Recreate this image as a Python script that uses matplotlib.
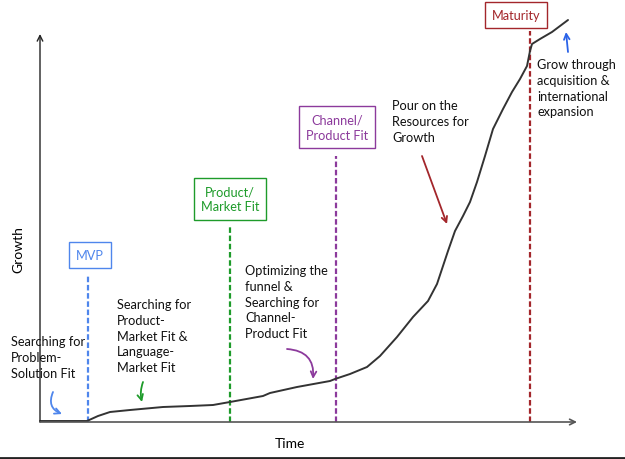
import matplotlib.pyplot as plt

plt.rcParams['font.family'] = ['Lato', 'DejaVu Sans']

# growth curve (time, growth)
time = [0, 47, 58, 70, 90, 123, 150, 173, 190, 223, 230, 257, 290, 295, 310, 327,
        340, 357, 373, 388, 397, 403, 408, 415, 423, 430, 437, 445, 453, 463, 472,
        480, 487, 490, 492, 500, 512, 520, 528]
growth = [1, 1, 6, 10, 12, 15, 16, 17, 20, 26, 29, 35, 41, 43, 48, 55,
          66, 85, 105, 121, 138, 156, 171, 191, 206, 220, 240, 266, 293, 313, 330,
          343, 356, 371, 378, 383, 390, 396, 402]

# milestones
milestones = ["MVP", "Product/\nMarket Fit", "Channel/\nProduct Fit", "Maturity"]
milestone_t = [48, 190, 296, 490]
milestone_top = [148, 197, 266, 391]
milestone_box = [(50, 167), (190, 223), (297, 295), (476, 407)]
milestone_colors = ["#4f86ec", "#1e9b2a", "#8c3a9c", "#a3262b"]

# phase notes
notes = ["Searching for\nProblem-\nSolution Fit",
         "Searching for\nProduct-\nMarket Fit &\nLanguage-\nMarket Fit",
         "Optimizing the\nfunnel &\nSearching for\nChannel-\nProduct Fit",
         "Pour on the\nResources for\nGrowth",
         "Grow through\nacquisition &\ninternational\nexpansion"]
note_pos = [(-29, 87), (77, 124), (205, 158), (352, 323), (497, 364)]
arrow_from = [(13, 30), (103, 40), (247, 73), (382, 266), (528, 370)]
arrow_to = [(22, 8), (102, 20), (273, 43), (407, 198), (526, 390)]
arrow_rad = [0.5, 0.15, -0.5, 0.0, 0.0]
arrow_colors = ["#4f86ec", "#1e9b2a", "#8c3a9c", "#a3262b", "#2b63e8"]

fig = plt.figure(figsize=(6.25, 4.6), dpi=100)
ax = fig.add_axes([0, 0, 1, 1])
ax.set_xlim(-40, 585)
ax.set_ylim(-37, 423)
ax.axis('off')

# axes with arrow heads
ax.annotate("", xy=(0, 388), xytext=(0, 0),
            arrowprops=dict(arrowstyle='->', color='#222222', lw=1.0, shrinkA=0, shrinkB=0))
ax.annotate("", xy=(537, 0), xytext=(0, 0),
            arrowprops=dict(arrowstyle='->', color='#555555', lw=1.2, shrinkA=0, shrinkB=0))
ax.plot([-40, 585], [-36, -36], color='#222222', lw=2)

ax.text(-22, 173, "Growth", rotation=90, ha='center', va='center', fontsize=10)
ax.text(250, -21, "Time", ha='center', va='center', fontsize=10)

for name, t, top, (bx, by), c in zip(milestones, milestone_t, milestone_top,
                                     milestone_box, milestone_colors):
    ax.plot([t, t], [0, top], color=c, lw=1.6, dashes=(2.5, 1.2))
    ax.text(bx, by, name, ha='center', va='center', color=c, fontsize=9.2,
            linespacing=1.3,
            bbox=dict(boxstyle='square,pad=0.55', fc='white', ec=c, lw=1.0))

ax.plot(time, growth, color='#333333', lw=1.4, solid_capstyle='round',
        solid_joinstyle='round')

for txt, (x, y) in zip(notes, note_pos):
    ax.text(x, y, txt, ha='left', va='top', fontsize=9.2, linespacing=1.38, color='#111111')

for a, b, r, c in zip(arrow_from, arrow_to, arrow_rad, arrow_colors):
    ax.annotate("", xy=b, xytext=a,
                arrowprops=dict(arrowstyle='->', color=c, lw=1.3,
                                connectionstyle='arc3,rad=%s' % r,
                                shrinkA=0, shrinkB=0))

fig.savefig("out.png", dpi=100)
